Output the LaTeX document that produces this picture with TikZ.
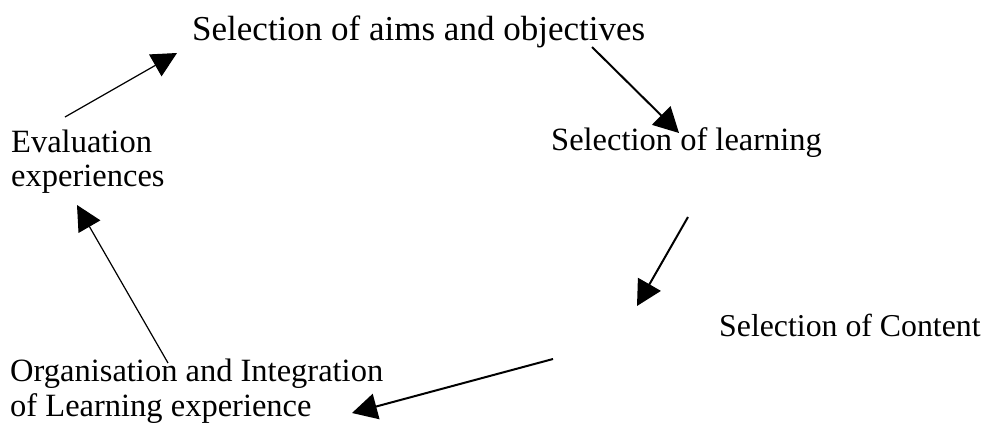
\documentclass[tikz,border=0pt]{standalone}
\usepackage{fontspec}
\setmainfont{Liberation Serif}
\usetikzlibrary{arrows.meta}
\tikzset{
  lbl/.style={inner sep=0pt, anchor=base west, align=left, font=\fontsize{32.5}{34}\selectfont},
  ttl/.style={inner sep=0pt, anchor=base west, font=\fontsize{35}{40}\selectfont},
  thick arrow/.style={line width=2pt, -{Triangle[length=25pt,width=26pt]}},
  thin arrow/.style={line width=1.2pt, -{Triangle[length=25pt,width=25pt]}}
}
\begin{document}
\begin{tikzpicture}[x=1pt,y=-1pt]
\useasboundingbox (0,0) rectangle (986,423);
\node[ttl] (aims) at (192,40) {Selection of aims and objectives};
\node[lbl] (learn) at (551,150) {Selection of learning};
\node[lbl] (eval) at (11,186) {Evaluation\\experiences};
\node[lbl, font=\fontsize{31.8}{34}\selectfont] (content) at (719,336) {Selection of Content};
\node[lbl, font=\fontsize{32.5}{35}\selectfont] (org) at (10,416) {Organisation and Integration\\of Learning experience};
\coordinate (a1s) at (65,117);  \coordinate (a1e) at (177,53);
\coordinate (a2s) at (592,47);  \coordinate (a2e) at (679,133);
\coordinate (a3s) at (688,217); \coordinate (a3e) at (637,306);
\coordinate (a4s) at (553,359); \coordinate (a4e) at (352,413);
\coordinate (a5s) at (168,363); \coordinate (a5e) at (77,205);
\draw[thin arrow] (a1s) -- (a1e);
\draw[thick arrow] (a2s) -- (a2e);
\draw[thick arrow] (a3s) -- (a3e);
\draw[thick arrow] (a4s) -- (a4e);
\draw[thin arrow] (a5s) -- (a5e);
\end{tikzpicture}
\end{document}
